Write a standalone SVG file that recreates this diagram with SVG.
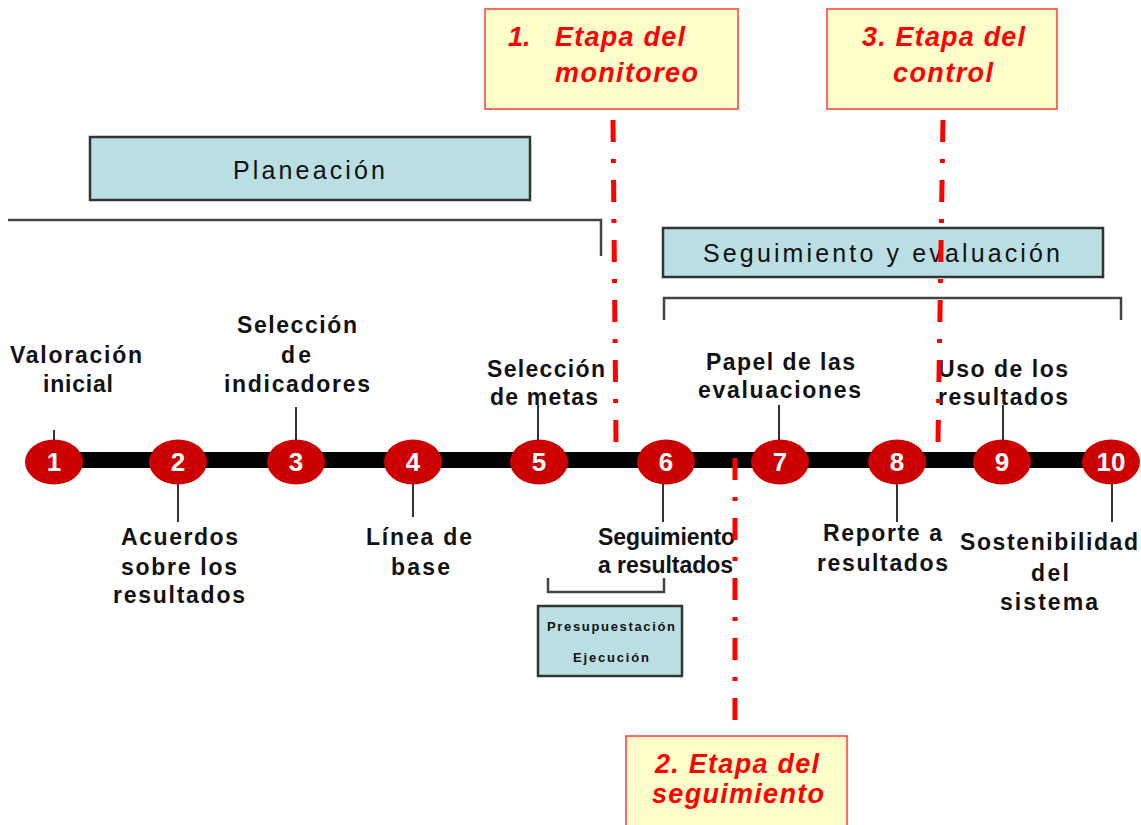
<svg xmlns="http://www.w3.org/2000/svg" width="1141" height="825" viewBox="0 0 1141 825">
<style>
.teal{fill:#b9dfe3;stroke:#333;stroke-width:2.5}
.yel{fill:#ffffcc;stroke:#ff3b3b;stroke-width:1.5}
.red{font-family:"Liberation Sans",Arial,sans-serif;font-weight:bold;font-style:italic;font-size:27px;fill:#ff0000}
.lbl{font-family:"Liberation Sans",Arial,sans-serif;font-weight:bold;font-size:23px;fill:#111}
.box{font-family:"Liberation Sans",Arial,sans-serif;font-size:25px;fill:#111}
.small{font-family:"Liberation Sans",Arial,sans-serif;font-weight:bold;font-size:13px;fill:#111}
.dot{fill:#cc0000}
.num{font-family:"Liberation Sans",Arial,sans-serif;font-weight:bold;font-size:26px;fill:#fff;text-anchor:middle}
.stub{stroke:#333;stroke-width:2;fill:none}
.brk{stroke:#444;stroke-width:2.5;fill:none}
.dd{stroke:#ff0000;stroke-width:5;fill:none;stroke-dasharray:22 17 4 17}
</style>
<rect width="1141" height="825" fill="#fff"/>

<g id="etapa1">
<rect class="yel" x="485" y="9" width="253" height="100"/>
<text class="red" x="508" y="46">1.</text>
<text class="red" x="555" y="46" textLength="130" lengthAdjust="spacing">Etapa del</text>
<text class="red" x="555" y="82" textLength="143" lengthAdjust="spacing">monitoreo</text>
</g>
<g id="etapa3">
<rect class="yel" x="827" y="9" width="230" height="100"/>
<text class="red" x="862" y="46" textLength="163" lengthAdjust="spacing">3. Etapa del</text>
<text class="red" x="893" y="82" textLength="100" lengthAdjust="spacing">control</text>
</g>
<g id="etapa2">
<rect class="yel" x="626" y="736" width="221" height="100"/>
<text class="red" x="655" y="773" textLength="164" lengthAdjust="spacing">2. Etapa del</text>
<text class="red" x="652" y="803" textLength="172" lengthAdjust="spacing">seguimiento</text>
</g>

<g id="planeacion">
<rect class="teal" x="90" y="137" width="440" height="63"/>
<text class="box" x="233" y="179" textLength="152" lengthAdjust="spacing">Planeación</text>
</g>
<g id="seguimiento-evaluacion">
<rect class="teal" x="663" y="228" width="440" height="49"/>
<text class="box" x="703" y="262" textLength="357" lengthAdjust="spacing">Seguimiento y evaluación</text>
</g>
<g id="presupuestacion">
<rect class="teal" x="538" y="606" width="144" height="70"/>
<text class="small" x="547" y="631" textLength="128" lengthAdjust="spacing">Presupuestación</text>
<text class="small" x="573" y="662" textLength="76" lengthAdjust="spacing">Ejecución</text>
</g>

<g id="timeline">
<rect x="54" y="452" width="1057" height="16" fill="#000"/>
</g>

<g id="connectors">
<path class="brk" d="M8 220 H601 V256"/>
<path class="brk" d="M664 320 V298 H1121 V320"/>
<path class="brk" d="M548 578 V592 H664 V578"/>
<path class="stub" d="M54 430 V442"/>
<path class="stub" d="M178 482 V522"/>
<path class="stub" d="M296 407 V442"/>
<path class="stub" d="M413 482 V517"/>
<path class="stub" d="M538 405 V442"/>
<path class="stub" d="M663 482 V522"/>
<path class="stub" d="M779 405 V442"/>
<path class="stub" d="M897 482 V522"/>
<path class="stub" d="M1003 405 V442"/>
<path class="stub" d="M1112 482 V522"/>
</g>

<g id="step1"><ellipse class="dot" cx="54" cy="462" rx="29" ry="22.5"/><text class="num" x="54" y="471">1</text>
<text class="lbl" x="10" y="363" textLength="132" lengthAdjust="spacing">Valoración</text>
<text class="lbl" x="43" y="392" textLength="70" lengthAdjust="spacing">inicial</text></g>
<g id="step2"><ellipse class="dot" cx="178" cy="462" rx="29" ry="22.5"/><text class="num" x="178" y="471">2</text>
<text class="lbl" x="121" y="545" textLength="117" lengthAdjust="spacing">Acuerdos</text>
<text class="lbl" x="121" y="575" textLength="116" lengthAdjust="spacing">sobre los</text>
<text class="lbl" x="113" y="603" textLength="132" lengthAdjust="spacing">resultados</text></g>
<g id="step3"><ellipse class="dot" cx="296" cy="462" rx="29" ry="22.5"/><text class="num" x="296" y="471">3</text>
<text class="lbl" x="237" y="333" textLength="120" lengthAdjust="spacing">Selección</text>
<text class="lbl" x="281" y="363" textLength="30" lengthAdjust="spacing">de</text>
<text class="lbl" x="224" y="392" textLength="146" lengthAdjust="spacing">indicadores</text></g>
<g id="step4"><ellipse class="dot" cx="413" cy="462" rx="29" ry="22.5"/><text class="num" x="413" y="471">4</text>
<text class="lbl" x="366" y="545" textLength="106" lengthAdjust="spacing">Línea de</text>
<text class="lbl" x="391" y="575" textLength="59" lengthAdjust="spacing">base</text></g>
<g id="step5"><ellipse class="dot" cx="539" cy="462" rx="29" ry="22.5"/><text class="num" x="539" y="471">5</text>
<text class="lbl" x="487" y="377" textLength="118" lengthAdjust="spacing">Selección</text>
<text class="lbl" x="490" y="405" textLength="108" lengthAdjust="spacing">de metas</text></g>
<g id="step6"><ellipse class="dot" cx="666" cy="462" rx="29" ry="22.5"/><text class="num" x="666" y="471">6</text>
<text class="lbl" x="598" y="545" textLength="137" lengthAdjust="spacing">Seguimiento</text>
<text class="lbl" x="598" y="573" textLength="135" lengthAdjust="spacing">a resultados</text></g>
<g id="step7"><ellipse class="dot" cx="780" cy="462" rx="29" ry="22.5"/><text class="num" x="780" y="471">7</text>
<text class="lbl" x="706" y="370" textLength="149" lengthAdjust="spacing">Papel de las</text>
<text class="lbl" x="698" y="398" textLength="163" lengthAdjust="spacing">evaluaciones</text></g>
<g id="step8"><ellipse class="dot" cx="897" cy="462" rx="29" ry="22.5"/><text class="num" x="897" y="471">8</text>
<text class="lbl" x="823" y="541" textLength="119" lengthAdjust="spacing">Reporte a</text>
<text class="lbl" x="817" y="571" textLength="131" lengthAdjust="spacing">resultados</text></g>
<g id="step9"><ellipse class="dot" cx="1002" cy="462" rx="29" ry="22.5"/><text class="num" x="1002" y="471">9</text>
<text class="lbl" x="938" y="377" textLength="130" lengthAdjust="spacing">Uso de los</text>
<text class="lbl" x="938" y="405" textLength="130" lengthAdjust="spacing">resultados</text></g>
<g id="step10"><ellipse class="dot" cx="1111" cy="462" rx="29" ry="22.5"/><text class="num" x="1111" y="471">10</text>
<text class="lbl" x="960" y="550" textLength="178" lengthAdjust="spacing">Sostenibilidad</text>
<text class="lbl" x="1031" y="581" textLength="38" lengthAdjust="spacing">del</text>
<text class="lbl" x="1000" y="610" textLength="98" lengthAdjust="spacing">sistema</text></g>

<g id="stage-lines">
<path class="dd" d="M613 120 L616 442"/>
<path class="dd" d="M943 120 L938 442"/>
<path class="dd" d="M735 458 L735 720"/>
</g>
</svg>
